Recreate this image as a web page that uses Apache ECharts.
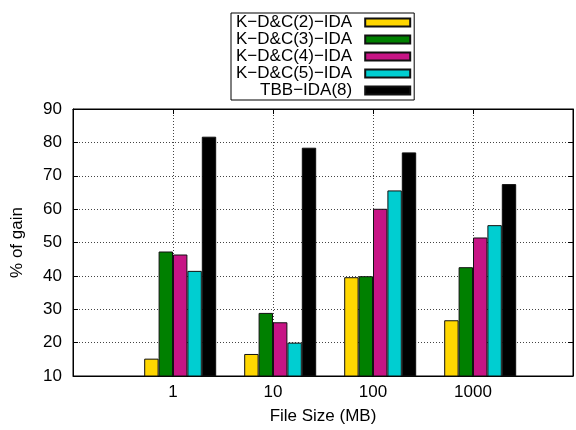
<!DOCTYPE html>
<html>
<head>
<meta charset="utf-8">
<script src="https://cdn.jsdelivr.net/npm/echarts@6/dist/echarts.min.js"></script>
<style>
html,body{margin:0;padding:0;background:#fff;}
#chart{width:576px;height:430px;}
</style>
</head>
<body>
<div id="chart"></div>
<script>
var categories = ['1', '10', '100', '1000'];
var seriesNames = ['K\u2212D&C(2)\u2212IDA', 'K\u2212D&C(3)\u2212IDA', 'K\u2212D&C(4)\u2212IDA', 'K\u2212D&C(5)\u2212IDA', 'TBB\u2212IDA(8)'];
var kdc2 = [15.2, 16.6, 39.6, 26.7];
var kdc3 = [47.3, 28.9, 39.9, 42.6];
var kdc4 = [46.4, 26.1, 60.1, 51.5];
var kdc5 = [41.5, 20.0, 65.6, 55.2];
var tbb8 = [81.7, 78.4, 77.0, 67.5];
var colors = ['#FFD700', '#008000', '#C71585', '#00CED1', '#000000'];
var yTicks = [10, 20, 30, 40, 50, 60, 70, 80, 90];

var font = 'Liberation Sans, Arial, Helvetica, sans-serif';
var axisCats = [''].concat(categories, ['']);
function pad(arr){ return [null].concat(arr, [null]); }
var values = [kdc2, kdc3, kdc4, kdc5, tbb8];

var series = [{
  name: '_spacer', type: 'bar', data: pad([null, null, null, null]),
  barWidth: 14.4, barGap: '0%', itemStyle: {color: 'transparent'}, silent: true
}];
values.forEach(function(v, i){
  series.push({
    name: seriesNames[i], type: 'bar', data: pad(v),
    barWidth: 14.4, barGap: '0%',
    itemStyle: {color: colors[i], borderColor: '#111', borderWidth: 1}
  });
});

var chart = echarts.init(document.getElementById('chart'), null, {renderer: 'canvas'});
chart.setOption({
  animation: false,
  backgroundColor: '#fff',
  textStyle: {fontFamily: font},
  grid: {left: 73, right: 1, top: 109, bottom: 52.5, show: true, borderColor: '#000', borderWidth: 1, backgroundColor: 'transparent'},
  legend: {
    data: seriesNames,
    orient: 'vertical', align: 'right',
    left: 231, top: 13,
    itemWidth: 45, itemHeight: 8, itemGap: 0,
    padding: [1, 3, 1, 5],
    borderColor: '#000', borderWidth: 1,
    icon: 'rect',
    textStyle: {fontFamily: font, fontSize: 17, color: '#000', lineHeight: 16.4, width: 113, align: 'right', padding: [0, 8, 0, 0]}
  },
  xAxis: [{
    type: 'category', data: axisCats, boundaryGap: false,
    name: 'File Size (MB)', nameLocation: 'middle', nameGap: 32,
    nameTextStyle: {fontFamily: font, fontSize: 17, color: '#000'},
    axisLine: {show: true, lineStyle: {color: '#000', width: 1}},
    axisTick: {show: true, inside: true, length: 5, interval: 0, lineStyle: {color: '#000'}},
    axisLabel: {fontFamily: font, fontSize: 17, color: '#000', margin: 8, interval: 0},
    splitLine: {show: true, interval: 0, lineStyle: {color: '#444', type: [1, 2], width: 1}}
  }, {
    type: 'category', data: axisCats, boundaryGap: false, position: 'top',
    axisLine: {show: true, lineStyle: {color: '#000', width: 1}},
    axisTick: {show: true, inside: true, length: 5, interval: 0, lineStyle: {color: '#000'}},
    axisLabel: {show: false}, splitLine: {show: false}
  }],
  yAxis: [{
    type: 'value', min: 10, max: 90, interval: 10,
    name: '% of gain', nameLocation: 'middle', nameGap: 47,
    nameTextStyle: {fontFamily: font, fontSize: 17, color: '#000'},
    axisLine: {show: true, lineStyle: {color: '#000', width: 1}},
    axisTick: {show: true, inside: true, length: 5, lineStyle: {color: '#000'}},
    axisLabel: {fontFamily: font, fontSize: 17, color: '#000', margin: 11},
    splitLine: {show: true, lineStyle: {color: '#444', type: [1, 2], width: 1}}
  }, {
    type: 'value', min: 10, max: 90, interval: 10, position: 'right',
    axisLine: {show: true, lineStyle: {color: '#000', width: 1}},
    axisTick: {show: true, inside: true, length: 5, lineStyle: {color: '#000'}},
    axisLabel: {show: false}, splitLine: {show: false}
  }],
  series: series
});
</script>
</body>
</html>
